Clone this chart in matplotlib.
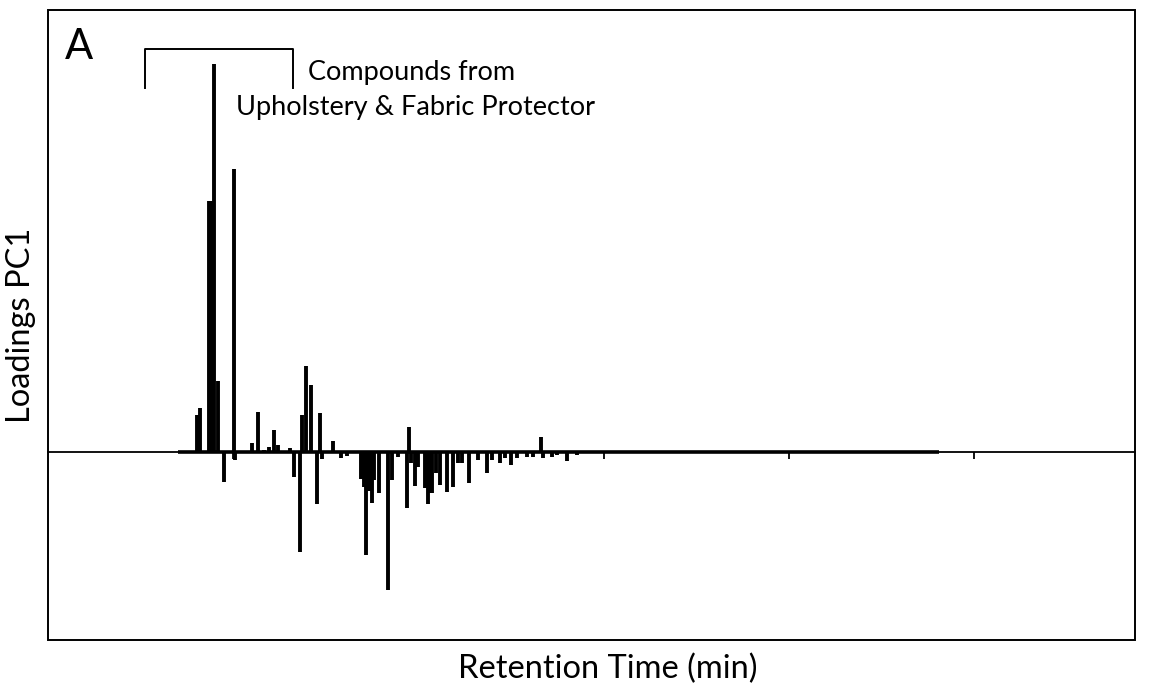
import matplotlib.pyplot as plt
from matplotlib.patches import Rectangle

plt.rcParams['font.family'] = ['Lato', 'DejaVu Sans']

# PC1 loadings: retention time (min) and loading of each resolved peak
peak_times = [4.02, 4.10, 4.36, 4.42, 4.48, 4.59, 4.75, 5.02, 5.06, 5.50, 5.67, 5.83,
              5.96, 6.10, 6.21, 6.53, 6.64, 6.80, 6.85, 6.96, 7.10, 7.26, 7.34, 7.39,
              7.69, 7.91, 8.07, 8.45, 8.52, 8.58, 8.66, 8.74, 8.80, 8.93, 9.17, 9.28,
              9.44, 9.69, 9.74, 9.80, 9.90, 9.98, 10.17, 10.25, 10.31, 10.36, 10.47,
              10.58, 10.77, 10.93, 11.06, 11.17, 11.36, 11.60, 11.85, 11.98, 12.20,
              12.33, 12.49, 12.66, 12.92, 13.09, 13.30, 13.36, 13.60, 13.73, 14.00,
              14.27, 14.49]
loadings = [0.095, 0.113, 0.647, 0.647, 1.000, 0.183, -0.077, 0.729, -0.021, 0.023,
            0.103, 0.005, 0.013, 0.057, 0.018, 0.010, -0.064, -0.258, 0.095, 0.222,
            0.173, -0.134, 0.101, -0.018, 0.028, -0.015, -0.010, -0.070, -0.090,
            -0.265, -0.100, -0.131, -0.072, -0.106, -0.356, -0.072, -0.013, -0.144,
            0.064, -0.028, -0.088, -0.039, -0.093, -0.134, -0.106, -0.106, -0.054,
            -0.085, -0.103, -0.090, -0.028, -0.028, -0.080, -0.021, -0.054, -0.021,
            -0.028, -0.015, -0.033, -0.015, -0.013, -0.013, 0.039, -0.015, -0.013,
            -0.008, -0.023, -0.008, -0.003]
trace_start, trace_end = 3.51, 24.07
tick_times = [5, 10, 15, 20, 25]

fig = plt.figure(figsize=(11.51, 6.89), dpi=100)
ax = fig.add_axes([48 / 1151, 1 - 640 / 689, (1135 - 48) / 1151, (640 - 10) / 689])

ax.set_xlim(0, 29.35)
ax.set_ylim(-0.485, 1.139)

# zero line with minute ticks hanging below it
for side in ['top', 'right', 'left']:
    ax.spines[side].set_visible(False)
ax.spines['bottom'].set_position(('data', 0))
ax.spines['bottom'].set_linewidth(1.3)
ax.set_xticks(tick_times)
ax.tick_params(axis='x', direction='out', length=5, width=1.3, labelbottom=False)
ax.set_yticks([])

# outer frame
ax.add_patch(Rectangle((0, 0), 1, 1, transform=ax.transAxes, fill=False,
                       edgecolor='black', linewidth=1.4, clip_on=False))

ax.plot([trace_start, trace_end], [0, 0], color='black', lw=2.6, solid_capstyle='butt')
ax.vlines(peak_times, 0, loadings, color='black', lw=2.8)

# bracket over the upholstery compounds
ax.plot([2.62, 2.62, 6.61, 6.61], [0.938, 1.039, 1.039, 0.938], color='black', lw=1.4)
ax.text(7.02, 0.977, 'Compounds from', fontsize=19.5, va='center', ha='left')
ax.text(5.08, 0.887, 'Upholstery & Fabric Protector', fontsize=19.5, va='center', ha='left')
ax.text(0.45, 1.044, 'A', fontsize=30, va='center', ha='left')

fig.text(608 / 1151, 1 - 669 / 689, 'Retention Time (min)', fontsize=23.5,
         ha='center', va='center')
fig.text(21 / 1151, 1 - 325 / 689, 'Loadings PC1', fontsize=23.5,
         ha='center', va='center', rotation=90)

fig.savefig('out.png', dpi=100)
